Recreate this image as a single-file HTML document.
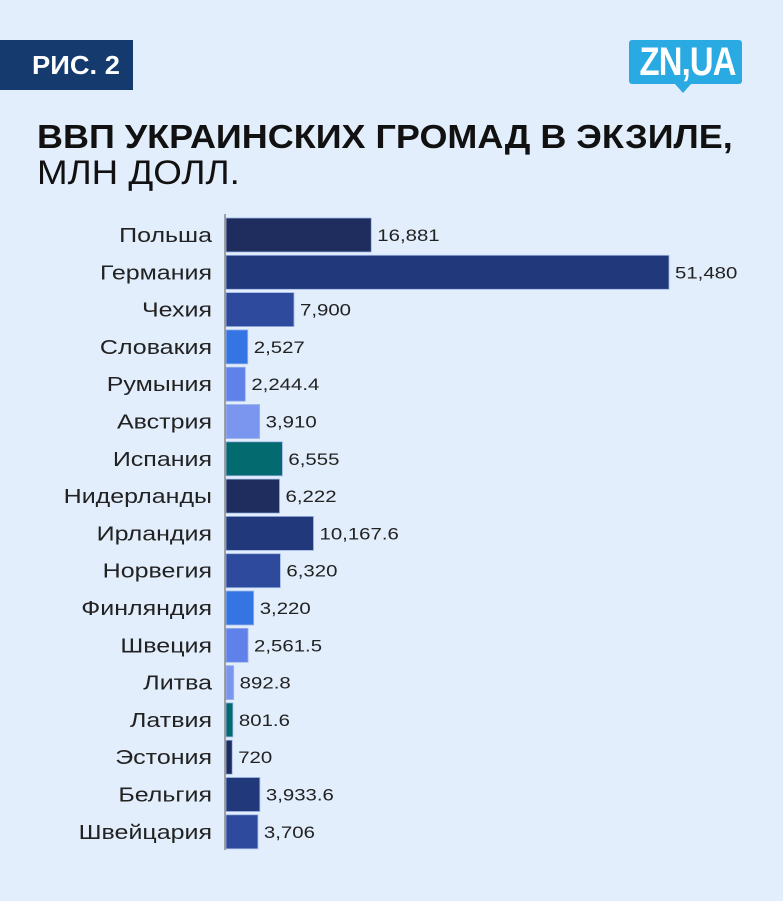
<!DOCTYPE html>
<html><head><meta charset="utf-8"><style>
body{margin:0;width:783px;height:901px;background:#e2eefc;font-family:"Liberation Sans","DejaVu Sans",sans-serif;position:relative;overflow:hidden}
.badge{position:absolute;left:0;top:40px;width:133px;height:50px;background:#143a6e;color:#fff;font-weight:bold;font-size:26px;line-height:50px}
.badge span{position:absolute;left:32px;top:0;transform:scaleX(1.05);transform-origin:left}
.logo{position:absolute;left:629px;top:40px;width:113px;height:44px;background:#2aaae3;border-radius:3px;color:#fff;font-weight:bold;font-size:40px;line-height:44px;text-align:center;letter-spacing:-1px}
.logo span{display:inline-block;transform:scaleX(0.82)}
.logo:after{content:"";position:absolute;left:46px;top:44px;border-left:8px solid transparent;border-right:8px solid transparent;border-top:9px solid #2aaae3}
.t1{position:absolute;left:37px;top:118px;font-size:33px;font-weight:bold;color:#111;transform:scaleX(1.09);transform-origin:left;white-space:nowrap}
.t2{position:absolute;left:37px;top:154px;font-size:34px;color:#111;transform:scaleX(1.08);transform-origin:left;white-space:nowrap}
</style></head><body>
<div class="badge"><span>РИС. 2</span></div>
<div class="logo"><span>ZN,UA</span></div>
<div class="t1">ВВП УКРАИНСКИХ ГРОМАД В ЭКЗИЛЕ,</div>
<div class="t2">МЛН ДОЛЛ.</div>
<svg id="chart" width="783" height="901" style="position:absolute;left:0;top:0"></svg>
<script>
const categories=["Польша","Германия","Чехия","Словакия","Румыния","Австрия","Испания","Нидерланды","Ирландия","Норвегия","Финляндия","Швеция","Литва","Латвия","Эстония","Бельгия","Швейцария"];
const values=[16881,51480,7900,2527,2244.4,3910,6555,6222,10167.6,6320,3220,2561.5,892.8,801.6,720,3933.6,3706];
const valueLabels=["16,881","51,480","7,900","2,527","2,244.4","3,910","6,555","6,222","10,167.6","6,320","3,220","2,561.5","892.8","801.6","720","3,933.6","3,706"];
const colors=["#1e2d5e","#21387a","#2d4a9c","#3574e3","#5f81e9","#7b96ef","#036a70"];
const svg=document.getElementById('chart');
const NS="http://www.w3.org/2000/svg";
const x0=226,scale=443/51480,y0=218,step=37.3,bh=34;
const xs=v=>v*scale;
const ys=i=>y0+i*step;
categories.forEach((c,i)=>{
 const r=document.createElementNS(NS,'rect');
 r.setAttribute('x',x0);r.setAttribute('y',ys(i));r.setAttribute('width',xs(values[i]));r.setAttribute('height',bh);
 r.setAttribute('fill',colors[i%7]);r.setAttribute('stroke','#9fb6e6');r.setAttribute('stroke-width','0.8');
 
 
 svg.appendChild(r);
 const t=document.createElementNS(NS,'text');
 t.setAttribute('x',0);t.setAttribute('y',0);t.setAttribute('text-anchor','end');
 t.setAttribute('transform','translate(212,'+(ys(i)+bh/2+7)+') scale(1.25,1)');
 t.setAttribute('font-size','20');t.setAttribute('fill','#222');t.textContent=c;
 
 
 svg.appendChild(t);
 const v=document.createElementNS(NS,'text');
 v.setAttribute('x',0);v.setAttribute('y',0);
 v.setAttribute('transform','translate('+(x0+xs(values[i])+6)+','+(ys(i)+bh/2+6)+') scale(1.2,1)');
 v.setAttribute('font-size','17');v.setAttribute('fill','#222');v.textContent=valueLabels[i];
 
 
 svg.appendChild(v);
});
const ax=document.createElementNS(NS,'line');
ax.setAttribute('x1',225);ax.setAttribute('x2',225);ax.setAttribute('y1',214);ax.setAttribute('y2',850);
ax.setAttribute('stroke','#888');ax.setAttribute('stroke-width','1.5');


svg.appendChild(ax);
</script>
</body></html>
